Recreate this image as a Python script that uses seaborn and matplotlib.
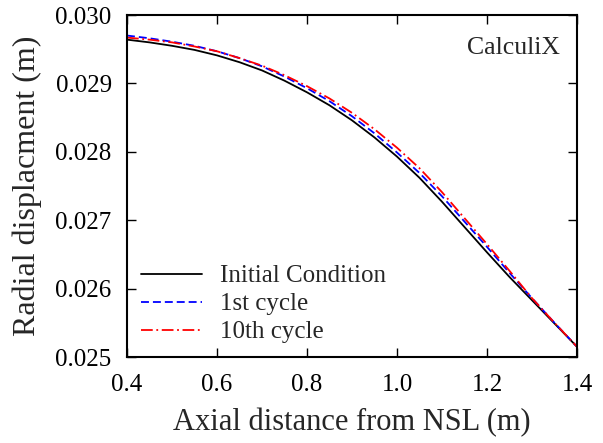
import numpy as np
import pandas as pd
import matplotlib
matplotlib.use("Agg")
import matplotlib.pyplot as plt
import seaborn as sns

x_vals = [0.40, 0.45, 0.50, 0.55, 0.60, 0.65, 0.70, 0.75, 0.80, 0.85, 0.90,
          0.95, 1.00, 1.05, 1.10, 1.15, 1.20, 1.25, 1.30, 1.35, 1.40]

initial = [0.02964, 0.02960, 0.02955, 0.02949, 0.02941, 0.02931, 0.02919,
           0.02904, 0.02887, 0.02868, 0.02846, 0.02821, 0.02793, 0.02762,
           0.02727, 0.02690, 0.02653, 0.02617, 0.02583, 0.02549, 0.02515]

cycle1 = [0.02970, 0.02966, 0.02961, 0.02955, 0.02947, 0.02937, 0.02925,
          0.02910, 0.02893, 0.02874, 0.02852, 0.02827, 0.02799, 0.02769,
          0.02735, 0.02698, 0.02661, 0.02623, 0.02586, 0.02550, 0.02515]

cycle10 = [0.02967, 0.02964, 0.02960, 0.02954, 0.02947, 0.02937, 0.02926,
           0.02912, 0.02896, 0.02878, 0.02857, 0.02833, 0.02806, 0.02776,
           0.02741, 0.02703, 0.02665, 0.02626, 0.02586, 0.02550, 0.02515]

series_names = ["Initial Condition", "1st cycle", "10th cycle"]
series_colors = ["black", "blue", "red"]

df = pd.concat([
    pd.DataFrame({"x": x_vals, "y": vals, "series": name})
    for name, vals in zip(series_names, [initial, cycle1, cycle10])
])

sns.set_theme(style="ticks")
plt.rcParams["font.family"] = ["Liberation Serif", "DejaVu Serif"]
plt.rcParams["mathtext.fontset"] = "stix"

fig = plt.figure(figsize=(6.03, 4.43), dpi=100)
ax = fig.add_axes([0.2106, 0.1941, 0.7463, 0.772])

sns.lineplot(data=df, x="x", y="y", hue="series", style="series",
             hue_order=series_names, style_order=series_names,
             palette=dict(zip(series_names, series_colors)),
             dashes={"Initial Condition": "",
                     "1st cycle": (4.4, 2.2),
                     "10th cycle": (6.5, 2, 1, 2)},
             linewidth=1.3, ax=ax, legend=True)

ax.set_xlim(0.4, 1.4)
ax.set_ylim(0.025, 0.030)
ax.set_xticks([0.4, 0.6, 0.8, 1.0, 1.2, 1.4])
ax.set_yticks([0.025, 0.026, 0.027, 0.028, 0.029, 0.030])
ax.set_xticklabels(["0.4", "0.6", "0.8", "1.0", "1.2", "1.4"])
ax.set_yticklabels(["0.025", "0.026", "0.027", "0.028", "0.029", "0.030"])
ax.tick_params(direction="in", length=6.5, width=1.0, top=True, right=True,
               labelsize=18, colors="black")
ax.tick_params(axis="x", pad=12)
ax.tick_params(axis="y", pad=11)
for s in ax.spines.values():
    s.set_linewidth(1.5)
    s.set_color("black")

ax.set_xlabel("Axial distance from NSL (m)", fontsize=22, labelpad=9)
ax.set_ylabel("Radial displacment (m)", fontsize=23, labelpad=10)

ax.text(0.962, 0.905, "CalculiX", transform=ax.transAxes, ha="right",
        va="center", fontsize=18.5)

leg = ax.legend(loc="lower left", bbox_to_anchor=(0.02, 0.025), frameon=False,
                fontsize=18, handlelength=2.45, handletextpad=0.7,
                labelspacing=0.22, borderaxespad=0.0, borderpad=0.2)
for line in leg.get_lines():
    line.set_linewidth(1.3)

fig.savefig("out.png", dpi=100)
